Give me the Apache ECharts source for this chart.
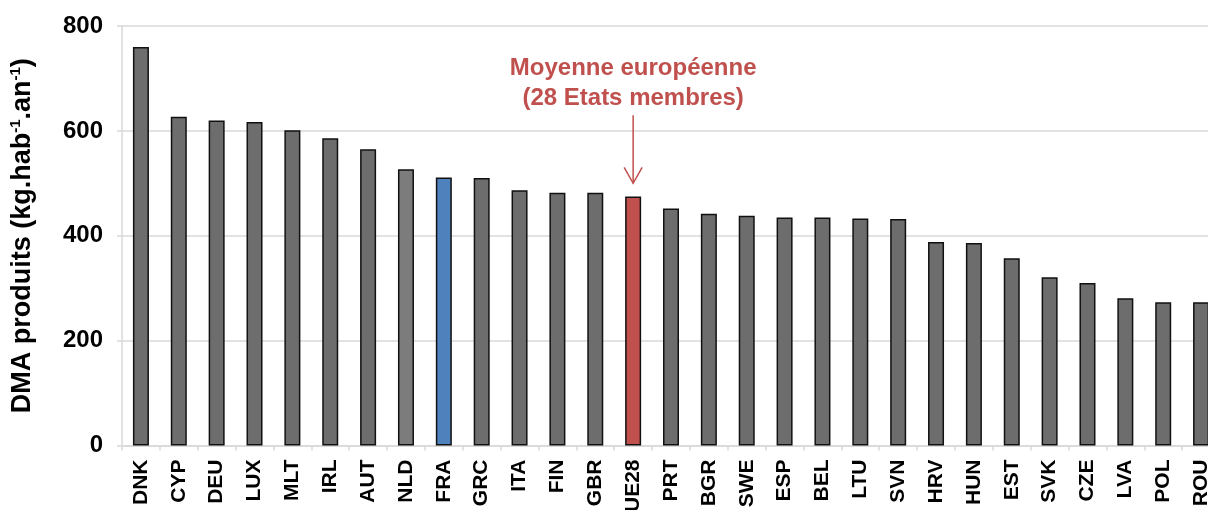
<!DOCTYPE html>
<html>
<head>
<meta charset="utf-8">
<script src="https://cdn.jsdelivr.net/npm/echarts@6/dist/echarts.min.js"></script>
<style>
  html, body { margin: 0; padding: 0; background: #fff; }
  #main { width: 1208px; height: 510px; }
</style>
</head>
<body>
<div id="main"></div>
<script>
// pays (codes ISO) et DMA produits par habitant
var pays = ['DNK', 'CYP', 'DEU', 'LUX', 'MLT', 'IRL', 'AUT', 'NLD', 'FRA', 'GRC',
    'ITA', 'FIN', 'GBR', 'UE28', 'PRT', 'BGR', 'SWE', 'ESP', 'BEL', 'LTU',
    'SVN', 'HRV', 'HUN', 'EST', 'SVK', 'CZE', 'LVA', 'POL', 'ROU'];
var dma = [760, 627, 620, 617, 601, 586, 565, 527, 511, 510,
    487, 482, 482, 475, 452, 442, 438, 435, 435, 433,
    432, 388, 386, 357, 321, 310, 281, 273, 273];
var yTicks = [0, 200, 400, 600, 800];
var annotation = ['Moyenne européenne', '(28 Etats membres)'];

var couleurs = {
    'FRA': '#4f81bd',
    'UE28': '#c0504d',
    'NLD': '#7c7c7c'
};

var police = 'Liberation Sans, Arial, sans-serif';
var chart = echarts.init(document.getElementById('main'));

var option = {
    animation: false,
    grid: {
        left: 122,
        top: 26,
        width: 1098,
        height: 419.5,
        outerBoundsMode: 'none'
    },
    xAxis: {
        type: 'category',
        data: pays,
        axisLine: { lineStyle: { color: '#d9d9d9', width: 1.5 } },
        axisTick: { show: true, length: 5, lineStyle: { color: '#d9d9d9', width: 1.5 } },
        axisLabel: {
            rotate: 90,
            interval: 0,
            margin: 14,
            color: '#000',
            fontFamily: police,
            fontWeight: 'bold',
            fontSize: 21
        }
    },
    yAxis: {
        type: 'value',
        min: yTicks[0],
        max: yTicks[yTicks.length - 1],
        interval: 200,
        name: '{a|DMA produits (kg.hab}{s|-1}{a|.an}{s|-1}{a|)}',
        nameLocation: 'middle',
        nameRotate: 90,
        nameGap: 84,
        nameTextStyle: {
            rich: {
                a: { fontFamily: police, fontWeight: 'bold', fontSize: 27, color: '#000', lineHeight: 30 },
                s: { fontFamily: police, fontWeight: 'bold', fontSize: 15, color: '#000', lineHeight: 30, verticalAlign: 'top' }
            }
        },
        axisLine: { show: true, lineStyle: { color: '#d9d9d9', width: 1.5 } },
        axisTick: { show: true, length: 5, lineStyle: { color: '#d9d9d9', width: 1.5 } },
        splitLine: { lineStyle: { color: '#d9d9d9', width: 1.5 } },
        axisLabel: {
            margin: 19,
            color: '#000',
            fontFamily: police,
            fontWeight: 'bold',
            fontSize: 24
        }
    },
    series: [{
        type: 'bar',
        barWidth: 16,
        data: dma.map(function (v, i) {
            return {
                value: v,
                itemStyle: { color: couleurs[pays[i]] || '#6d6d6d' }
            };
        }),
        itemStyle: {
            borderColor: '#111',
            borderWidth: 1.5
        }
    }]
};
chart.setOption(option);

// annotation et flèche ancrées sur la barre UE28
var haut = chart.convertToPixel({ seriesIndex: 0 }, ['UE28', 630]);
var bas = chart.convertToPixel({ seriesIndex: 0 }, ['UE28', 500]);
var rouge = '#c0504d';
chart.setOption({
    graphic: [
        {
            type: 'text',
            x: bas[0],
            y: 68,
            style: {
                text: annotation[0],
                fill: rouge,
                font: 'bold 24px "Liberation Sans", Arial, sans-serif',
                align: 'center',
                verticalAlign: 'middle'
            }
        },
        {
            type: 'text',
            x: bas[0],
            y: 98,
            style: {
                text: annotation[1],
                fill: rouge,
                font: 'bold 24px "Liberation Sans", Arial, sans-serif',
                align: 'center',
                verticalAlign: 'middle'
            }
        },
        {
            type: 'line',
            shape: { x1: bas[0], y1: haut[1], x2: bas[0], y2: bas[1] },
            style: { stroke: rouge, lineWidth: 1.5 }
        },
        {
            type: 'polyline',
            shape: { points: [[bas[0] - 9, bas[1] - 16], [bas[0], bas[1]], [bas[0] + 9, bas[1] - 16]] },
            style: { stroke: rouge, lineWidth: 1.5, fill: null }
        }
    ]
});
</script>
</body>
</html>
